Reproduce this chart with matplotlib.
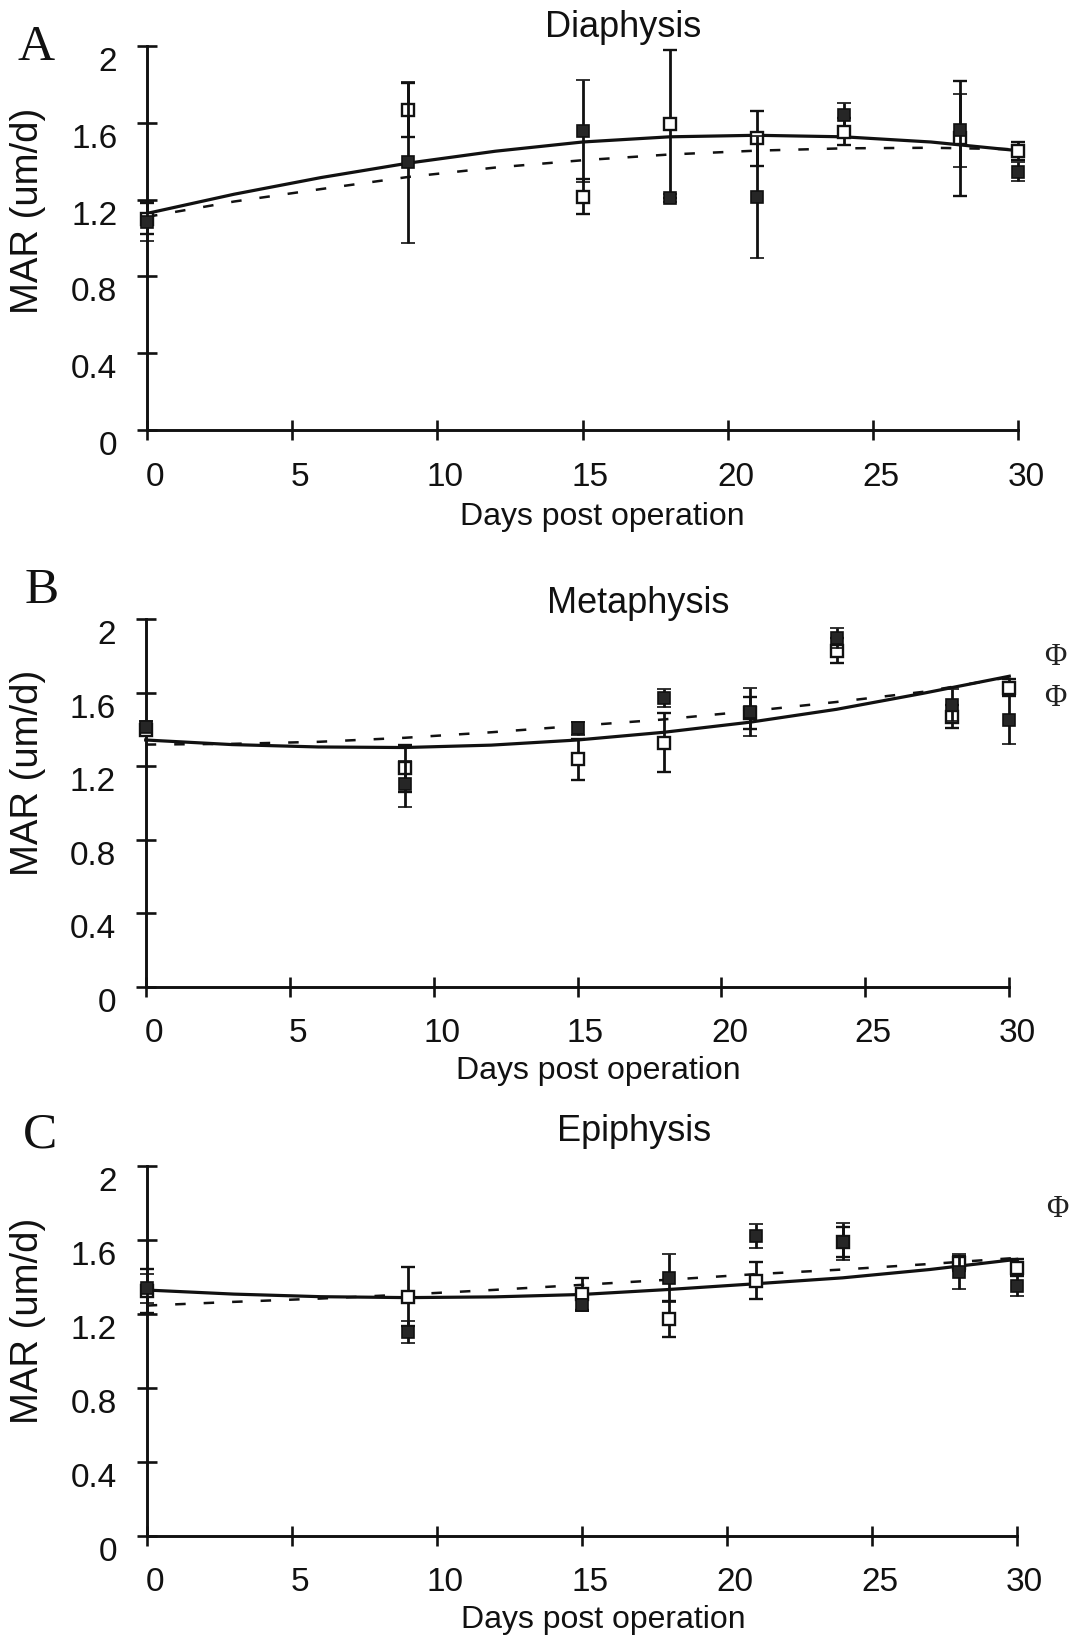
import matplotlib
matplotlib.use("Agg")
import matplotlib.pyplot as plt
from matplotlib.transforms import ScaledTranslation

plt.rcParams['font.family'] = ['Liberation Sans', 'DejaVu Sans']

# sampling days
days = [0, 9, 15, 18, 21, 24, 28, 30]

# Diaphysis
filled_A = [1.085, 1.394, 1.557, 1.207, 1.215, 1.641, 1.562, 1.345]
filled_A_err = [0.10, 0.42, 0.266, 0.02, 0.317, 0.06, 0.19, 0.05]
open_A = [1.10, 1.667, 1.215, 1.594, 1.519, 1.554, 1.519, 1.455]
open_A_err = [0.08, 0.14, 0.09, 0.385, 0.144, 0.07, 0.30, 0.047]

# Metaphysis
filled_B = [1.415, 1.102, 1.407, 1.573, 1.494, 1.90, 1.533, 1.452]
filled_B_err = [0.03, 0.125, 0.035, 0.048, 0.13, 0.054, 0.086, 0.13]
open_B = [1.40, 1.189, 1.238, 1.328, 1.49, 1.829, 1.47, 1.628]
open_B_err = [0.03, 0.127, 0.113, 0.16, 0.086, 0.069, 0.063, 0.045]

# Epiphysis
filled_C = [1.338, 1.104, 1.248, 1.392, 1.621, 1.591, 1.428, 1.352]
filled_C_err = [0.08, 0.06, 0.03, 0.13, 0.065, 0.10, 0.095, 0.055]
open_C = [1.325, 1.293, 1.307, 1.172, 1.38, 1.59, 1.474, 1.45]
open_C_err = [0.12, 0.16, 0.085, 0.095, 0.10, 0.08, 0.04, 0.045]

# fitted curves
fit_days = [0, 3, 6, 9, 12, 15, 18, 21, 24, 27, 30]
solid_A = [1.128, 1.228, 1.315, 1.39, 1.452, 1.5, 1.527, 1.535, 1.527, 1.50, 1.455]
dashed_A = [1.11, 1.19, 1.255, 1.318, 1.367, 1.405, 1.435, 1.455, 1.467, 1.47, 1.462]
solid_B = [1.343, 1.318, 1.305, 1.302, 1.315, 1.343, 1.385, 1.44, 1.51, 1.597, 1.69]
dashed_B = [1.318, 1.322, 1.333, 1.355, 1.385, 1.42, 1.455, 1.50, 1.55, 1.605, 1.685]
solid_C = [1.329, 1.307, 1.293, 1.288, 1.292, 1.305, 1.332, 1.363, 1.395, 1.44, 1.495]
dashed_C = [1.245, 1.265, 1.283, 1.305, 1.33, 1.357, 1.385, 1.415, 1.44, 1.47, 1.503]

y_ticks = [0, 0.4, 0.8, 1.2, 1.6, 2.0]
y_ticklabels = ['0', '0.4', '0.8', '1.2', '1.6', '2']
x_ticks = [0, 5, 10, 15, 20, 25, 30]

W, H = 1073, 1637
fig = plt.figure(figsize=(W / 100, H / 100), dpi=100)


def px_rect(left, right, top, bottom):
    return [left / W, 1 - bottom / H, (right - left) / W, (bottom - top) / H]


def panel(rect, filled, filled_err, opn, opn_err, solid, dashed, phis):
    ax = fig.add_axes(rect)
    ax.set_xlim(0, 30)
    ax.set_ylim(0, 2)
    for s in ['top', 'right']:
        ax.spines[s].set_visible(False)
    for s in ['left', 'bottom']:
        ax.spines[s].set_linewidth(2.1)
        ax.spines[s].set_color('#111111')
    ax.set_xticks(x_ticks)
    ax.set_yticks(y_ticks)
    ax.set_yticklabels(y_ticklabels)
    ax.tick_params(direction='inout', length=13.7, width=1.9, labelsize=24,
                   color='#111111', labelcolor='#111111')
    ax.tick_params(axis='y', pad=14.5)
    ax.tick_params(axis='x', pad=16)

    ax.plot(fit_days, solid, color='#111111', lw=2.3, zorder=2, clip_on=False)
    ln, = ax.plot(fit_days, dashed, color='#111111', lw=1.8, zorder=2, clip_on=False)
    ln.set_dashes([4.2, 7.2])

    eb = ax.errorbar(days, opn, yerr=opn_err, fmt='s', ms=8.2, mfc='white',
                     mec='#111111', mew=1.7, ecolor='#111111', elinewidth=2.0,
                     capsize=4.8, capthick=2.2, zorder=3)
    for a in eb.get_children():
        a.set_clip_on(False)
    eb = ax.errorbar(days, filled, yerr=filled_err, fmt='s', ms=8.2, mfc='#262626',
                     mec='#111111', mew=1.2, ecolor='#111111', elinewidth=2.0,
                     capsize=4.8, capthick=2.2, zorder=4)
    for a in eb.get_children():
        a.set_clip_on(False)

    for (px, py) in phis:
        ax.text(px, py, 'Φ', family=['Liberation Serif', 'DejaVu Serif'], fontsize=22,
                ha='center', va='center', clip_on=False, color='#222222')

    dy = ScaledTranslation(0, -0.13, fig.dpi_scale_trans)
    for lab in ax.get_yticklabels():
        lab.set_transform(lab.get_transform() + dy)
    dx = ScaledTranslation(0.08, 0, fig.dpi_scale_trans)
    for lab in ax.get_xticklabels():
        lab.set_transform(lab.get_transform() + dx)
    return ax


panel(px_rect(147, 1018, 46, 430), filled_A, filled_A_err, open_A, open_A_err,
      solid_A, dashed_A, [])
panel(px_rect(145.7, 1009.3, 619.3, 986.7), filled_B, filled_B_err, open_B, open_B_err,
      solid_B, dashed_B, [(31.6, 1.793), (31.6, 1.57)])
panel(px_rect(146.7, 1016.7, 1166, 1535.7), filled_C, filled_C_err, open_C, open_C_err,
      solid_C, dashed_C, [(31.4, 1.767)])

# titles, axis labels and panel letters
titles = ['Diaphysis', 'Metaphysis', 'Epiphysis']
title_pos = [(623, 37), (638, 613), (634, 1141)]
for t, (x, y) in zip(titles, title_pos):
    fig.text(x / W, 1 - y / H, t, fontsize=26, ha='center', va='baseline',
             color='#111111')

xlabel_pos = [(602, 525), (598, 1079), (603, 1628)]
for (x, y) in xlabel_pos:
    fig.text(x / W, 1 - y / H, 'Days post operation', fontsize=23,
             ha='center', va='baseline', color='#111111')

ylabel_pos = [(28, 211), (28, 773), (28, 1321)]
for (x, y) in ylabel_pos:
    fig.text(x / W, 1 - y / H, 'MAR (um/d)', fontsize=27.5, rotation=90,
             ha='center', va='center', color='#111111')

letters = ['A', 'B', 'C']
letter_pos = [(18, 60), (25, 603), (23, 1148)]
for l, (x, y) in zip(letters, letter_pos):
    fig.text(x / W, 1 - y / H, l, fontsize=37, ha='left', va='baseline',
             family=['Liberation Serif', 'DejaVu Serif'], color='#111111')

fig.savefig('out.png', dpi=100)
